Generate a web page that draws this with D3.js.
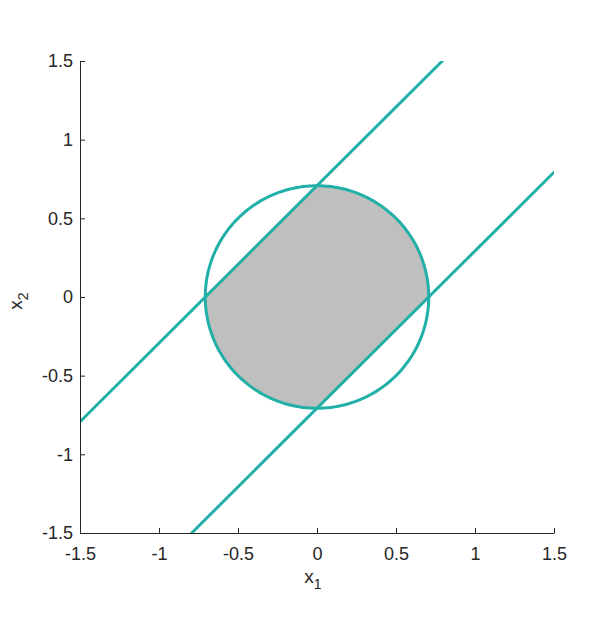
<!DOCTYPE html>
<html lang="en">
<head>
  <meta charset="UTF-8">
  <title>Circle and band</title>
  <style>
    * { margin: 0; box-sizing: border-box; }
    body { background: #fff; }
    svg { display: block; font-family: "Liberation Sans", Arial, sans-serif; }
    .axis .tick text { font-size: 18px; fill: #262626; }
    .axis path, .axis line { stroke: #262626; }
  </style>
</head>
<body>
  <svg></svg>
  <script src="https://d3js.org/d3.v7.min.js"></script>
  <script>
    // axis limits and ticks
    const xDomain = [-1.5, 1.5];
    const yDomain = [-1.5, 1.5];
    const xTicks = [-1.5, -1, -0.5, 0, 0.5, 1, 1.5];
    const yTicks = [-1.5, -1, -0.5, 0, 0.5, 1, 1.5];

    // circle x1^2 + x2^2 = r^2
    const circleCenter = [0, 0];
    const circleRadius = Math.SQRT1_2;

    // lines x2 = slope * x1 + intercept
    const lineSlopes = [1, 1];
    const lineIntercepts = [Math.SQRT1_2, -Math.SQRT1_2];

    const width = 606;
    const height = 617;
    const mLeft = 80, mRight = 554, mTop = 61, mBottom = 533;
    const teal = '#21b0a7';

    const svg = d3.select('svg')
      .attr('width', width)
      .attr('height', height);

    const x = d3.scaleLinear().domain(xDomain).range([mLeft, mRight]);
    const y = d3.scaleLinear().domain(yDomain).range([mBottom, mTop]);

    svg.append('defs').append('clipPath')
      .attr('id', 'plot-clip')
      .append('rect')
      .attr('x', mLeft).attr('y', mTop)
      .attr('width', mRight - mLeft).attr('height', mBottom - mTop);

    const plot = svg.append('g').attr('clip-path', 'url(#plot-clip)');

    // feasible region: circle points between the two lines
    const band = [d3.min(lineIntercepts), d3.max(lineIntercepts)];
    const region = d3.range(0, 360, 0.5)
      .map(a => {
        const t = a * Math.PI / 180;
        return [circleCenter[0] + circleRadius * Math.cos(t),
                circleCenter[1] + circleRadius * Math.sin(t)];
      })
      .filter(p => {
        const d = p[1] - p[0];
        return d >= band[0] - 1e-9 && d <= band[1] + 1e-9;
      });

    plot.append('path')
      .datum(region)
      .attr('d', d3.line().x(p => x(p[0])).y(p => y(p[1])).curve(d3.curveLinearClosed))
      .attr('fill', '#bfbfbf')
      .attr('stroke', '#ff0000')
      .attr('stroke-width', 1.5)
      .attr('stroke-linejoin', 'round');

    // circle
    const circlePts = d3.range(0, 361, 1).map(a => {
      const t = a * Math.PI / 180;
      return [circleCenter[0] + circleRadius * Math.cos(t),
              circleCenter[1] + circleRadius * Math.sin(t)];
    });
    plot.append('path')
      .datum(circlePts)
      .attr('d', d3.line().x(p => x(p[0])).y(p => y(p[1])))
      .attr('fill', 'none')
      .attr('stroke', teal)
      .attr('stroke-width', 3);

    // lines clipped to the axis box
    lineSlopes.forEach((m, i) => {
      const b = lineIntercepts[i];
      const x0 = Math.max(xDomain[0], (yDomain[0] - b) / m);
      const x1 = Math.min(xDomain[1], (yDomain[1] - b) / m);
      plot.append('line')
        .attr('x1', x(x0)).attr('y1', y(m * x0 + b))
        .attr('x2', x(x1)).attr('y2', y(m * x1 + b))
        .attr('stroke', teal)
        .attr('stroke-width', 3)
        .attr('stroke-linecap', 'round');
    });

    const fmt = d => String(d);

    svg.append('g')
      .attr('class', 'axis')
      .attr('transform', 'translate(0,' + mBottom + ')')
      .call(d3.axisBottom(x).tickValues(xTicks).tickFormat(fmt).tickSize(-5).tickSizeOuter(0).tickPadding(14));

    svg.append('g')
      .attr('class', 'axis')
      .attr('transform', 'translate(' + mLeft + ',0)')
      .call(d3.axisLeft(y).tickValues(yTicks).tickFormat(fmt).tickSize(-5).tickSizeOuter(0).tickPadding(7));

    // axis labels
    const xl = svg.append('text')
      .attr('x', (mLeft + mRight) / 2 - 4)
      .attr('y', 583)
      .attr('text-anchor', 'middle')
      .attr('font-size', 19)
      .attr('fill', '#262626');
    xl.append('tspan').text('x');
    xl.append('tspan').attr('font-size', 14).attr('dy', 6).text('1');

    const yl = svg.append('text')
      .attr('transform', 'translate(22,' + ((mTop + mBottom) / 2 + 4) + ') rotate(-90)')
      .attr('text-anchor', 'middle')
      .attr('font-size', 19)
      .attr('fill', '#262626');
    yl.append('tspan').text('x');
    yl.append('tspan').attr('font-size', 14).attr('dy', 6).text('2');
  </script>
</body>
</html>
